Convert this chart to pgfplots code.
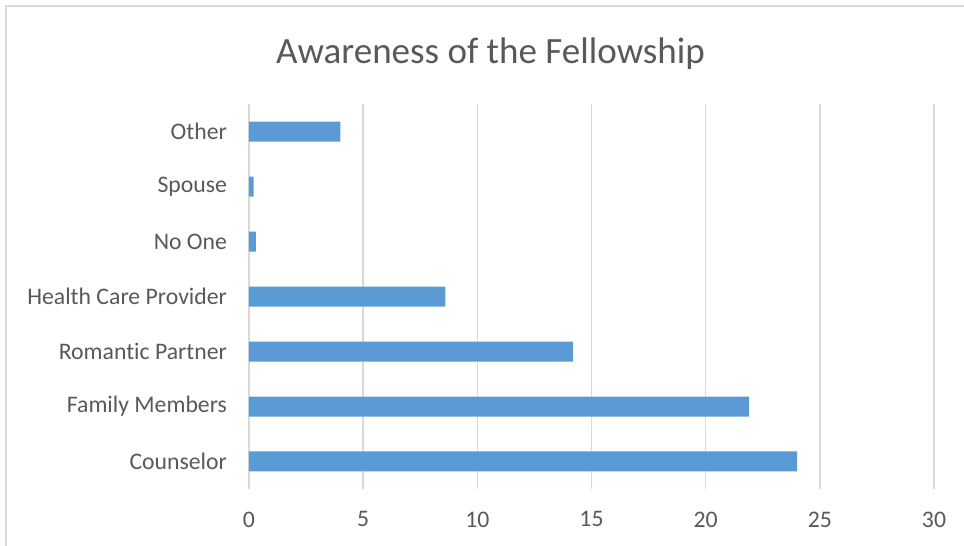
\documentclass[border=0pt]{standalone}
\usepackage{pgfplots}
\pgfplotsset{compat=1.18}
\usepackage{fontspec}
\setmainfont{Carlito}[Ligatures=NoCommon]
\definecolor{barblue}{HTML}{5B9BD5}
\definecolor{gridgray}{HTML}{D9D9D9}
\definecolor{txt}{HTML}{595959}
\begin{document}
\begin{tikzpicture}
\path[use as bounding box] (-186.75pt,-42.75pt) rectangle (536.25pt,366.75pt);
\draw[gridgray,line width=1.5pt] (-181.875pt,-50pt) -- (-181.875pt,361.875pt) -- (545pt,361.875pt);
\node[txt,font=\fontsize{27.8pt}{30pt}\selectfont] at (181.125pt,326.25pt) {Awareness of the Fellowship};
\begin{axis}[
  anchor=south west, at={(0pt,0pt)},
  scale only axis,
  width=513.75pt, height=288.75pt,
  xbar, bar width=15pt,
  xmin=0, xmax=30,
  ymin=-0.5, ymax=6.5,
  xtick={0,5,...,30},
  ytick={0,1,2,3,4,5,6},
  yticklabels={Counselor,Family Members,Romantic Partner,Health Care Provider,No One,Spouse,Other},
  axis line style={draw=none},
  major tick length=0pt,
  xmajorgrids,
  grid style={gridgray,line width=1.1pt},
  tick label style={txt,font=\fontsize{17.8pt}{20pt}\selectfont},
  /pgf/number format/assume math mode=true,
  yticklabel style={xshift=-13pt},
  xticklabel style={yshift=-13.5pt},
  clip=false,
]
\addplot[fill=barblue,draw=none] coordinates {
(24,0) (21.9,1) (14.2,2) (8.6,3) (0.3,4) (0.2,5) (4,6)};
\end{axis}
\end{tikzpicture}
\end{document}
